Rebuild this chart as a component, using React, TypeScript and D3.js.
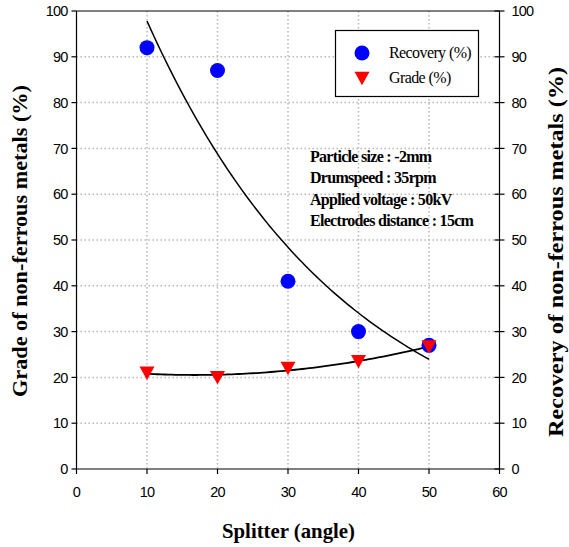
import React from "react";
import * as d3 from "d3";

const splitter = [10, 20, 30, 40, 50];
const recovery = [92, 87, 41, 30, 27];
const grade = [21, 20, 22, 23.5, 26.7];
const xTicks = [0, 10, 20, 30, 40, 50, 60];
const yTicks = [0, 10, 20, 30, 40, 50, 60, 70, 80, 90, 100];
const legendLabels = ["Recovery (%)", "Grade (%)"];
const notes = [
  "Particle size : -2mm",
  "Drumspeed : 35rpm",
  "Applied voltage : 50kV",
  "Electrodes distance : 15cm",
];

const W = 569;
const H = 547;
const L = 76.5, R = 499.5, T = 11, B = 469;

function expFit(xs: number[], ys: number[]) {
  const n = xs.length;
  const ly = ys.map((v) => Math.log(v));
  const mx = d3.mean(xs)!;
  const my = d3.mean(ly)!;
  let sxy = 0, sxx = 0;
  for (let i = 0; i < n; i++) {
    sxy += (xs[i] - mx) * (ly[i] - my);
    sxx += (xs[i] - mx) ** 2;
  }
  const b = sxy / sxx;
  const a = Math.exp(my - b * mx);
  return (x: number) => a * Math.exp(b * x);
}

function polyFit2(xs: number[], ys: number[]) {
  const n = xs.length;
  let s0 = n, s1 = 0, s2 = 0, s3 = 0, s4 = 0, t0 = 0, t1 = 0, t2 = 0;
  for (let i = 0; i < n; i++) {
    const x = xs[i], y = ys[i];
    s1 += x; s2 += x * x; s3 += x ** 3; s4 += x ** 4;
    t0 += y; t1 += x * y; t2 += x * x * y;
  }
  const M = [
    [s0, s1, s2, t0],
    [s1, s2, s3, t1],
    [s2, s3, s4, t2],
  ];
  for (let i = 0; i < 3; i++) {
    for (let j = i + 1; j < 3; j++) {
      const f = M[j][i] / M[i][i];
      for (let k = i; k < 4; k++) M[j][k] -= f * M[i][k];
    }
  }
  const c = [0, 0, 0];
  for (let i = 2; i >= 0; i--) {
    let s = M[i][3];
    for (let k = i + 1; k < 3; k++) s -= M[i][k] * c[k];
    c[i] = s / M[i][i];
  }
  return (x: number) => c[0] + c[1] * x + c[2] * x * x;
}

const SERIF = "'Liberation Serif', 'Times New Roman', serif";
const SANS = "'Liberation Sans', Arial, sans-serif";

export default function App() {
  const x = d3.scaleLinear().domain([0, 60]).range([L, R]);
  const y = d3.scaleLinear().domain([0, 100]).range([B, T]);

  const recFn = expFit(splitter, recovery);
  const grFn = polyFit2(splitter, grade);
  const xs = d3.range(10, 50.01, 0.5);
  const line = d3
    .line<number[]>()
    .x((d) => x(d[0]))
    .y((d) => y(d[1]));
  const recPath = line(xs.map((v) => [v, recFn(v)]))!;
  const grPath = line(xs.map((v) => [v, grFn(v)]))!;

  const tri = (cx: number, cy: number, s = 7.5) =>
    `M${cx - s},${cy - s * 0.85}L${cx + s},${cy - s * 0.85}L${cx},${cy + s * 0.95}Z`;

  const tickFont = { fontFamily: SANS, fontSize: 14.5, letterSpacing: -0.8 } as const;
  const titleFont = { fontFamily: SERIF, fontSize: 21, fontWeight: 700, lengthAdjust: "spacingAndGlyphs" } as const;

  const grid = "#b8b8b8";

  return (
    <svg width={W} height={H} style={{ position: "absolute", left: 0, top: 0, background: "#fff" }}>
      {yTicks.filter((t) => t > 0 && t < 100).map((t) => (
        <line key={"gy" + t} x1={L} x2={R} y1={y(t)} y2={y(t)} stroke={grid} strokeWidth={1.5} strokeDasharray="1.5,2.5" />
      ))}
      {xTicks.filter((t) => t > 0 && t < 60).map((t) => (
        <line key={"gx" + t} x1={x(t)} x2={x(t)} y1={T} y2={B} stroke={grid} strokeWidth={1.5} strokeDasharray="1.5,2.5" />
      ))}

      <line x1={L} x2={R} y1={T} y2={T} stroke="#000" strokeWidth={1.2} />
      <line x1={L} x2={R} y1={B} y2={B} stroke="#000" strokeWidth={1.2} />
      <line x1={L} x2={L} y1={T} y2={B} stroke="#000" strokeWidth={1.2} />
      <line x1={R} x2={R} y1={T} y2={B} stroke="#000" strokeWidth={1.2} />

      {yTicks.map((t) => (
        <g key={"ly" + t}>
          <line x1={L - 5} x2={L} y1={y(t)} y2={y(t)} stroke="#000" strokeWidth={1.2} />
          <text x={L - 9} y={y(t)} dy="0.36em" textAnchor="end" {...tickFont}>{t}</text>
        </g>
      ))}
      {yTicks.map((t) => (
        <g key={"ry" + t}>
          <line x1={R - 5} x2={R + 5} y1={y(t)} y2={y(t)} stroke="#000" strokeWidth={1.2} />
          <text x={R + 12} y={y(t)} dy="0.36em" textAnchor="start" {...tickFont}>{t}</text>
        </g>
      ))}
      {xTicks.map((t) => (
        <g key={"bx" + t}>
          <line x1={x(t)} x2={x(t)} y1={B} y2={B + 5} stroke="#000" strokeWidth={1.2} />
          <text x={x(t)} y={B + 28} textAnchor="middle" {...tickFont}>{t}</text>
        </g>
      ))}

      <text x={288.5} y={538} textAnchor="middle" textLength={133} {...titleFont}>Splitter (angle)</text>
      <text transform={`translate(27,241) rotate(-90)`} textAnchor="middle" textLength={312} {...titleFont}>
        Grade of non-ferrous metals (%)
      </text>
      <text transform={`translate(563,252) rotate(-90)`} textAnchor="middle" textLength={370} {...titleFont}>
        Recovery of non-ferrous metals (%)
      </text>

      <path d={recPath} fill="none" stroke="#000" strokeWidth={1.5} />
      <path d={grPath} fill="none" stroke="#000" strokeWidth={1.8} />

      {splitter.map((s, i) => (
        <circle key={"r" + i} cx={x(s)} cy={y(recovery[i])} r={7.5} fill="#0000ff" />
      ))}
      {splitter.map((s, i) => (
        <path key={"g" + i} d={tri(x(s), y(grade[i]))} fill="#ff0000" />
      ))}

      <rect x={335.5} y={30.5} width={143} height={66} fill="#fff" stroke="#000" strokeWidth={1.2} />
      <circle cx={362} cy={53} r={7.5} fill="#0000ff" />
      <path d={tri(362, 78)} fill="#ff0000" />
      {legendLabels.map((l, i) => (
        <text key={l} x={389} y={58 + i * 25} fontFamily={SERIF} fontSize={16} letterSpacing={-0.6}>
          {l}
        </text>
      ))}

      {notes.map((n, i) => (
        <text key={n} x={310} y={162 + i * 21.4} fontFamily={SERIF} fontSize={16} fontWeight={700} letterSpacing={-0.7}>
          {n}
        </text>
      ))}
    </svg>
  );
}
